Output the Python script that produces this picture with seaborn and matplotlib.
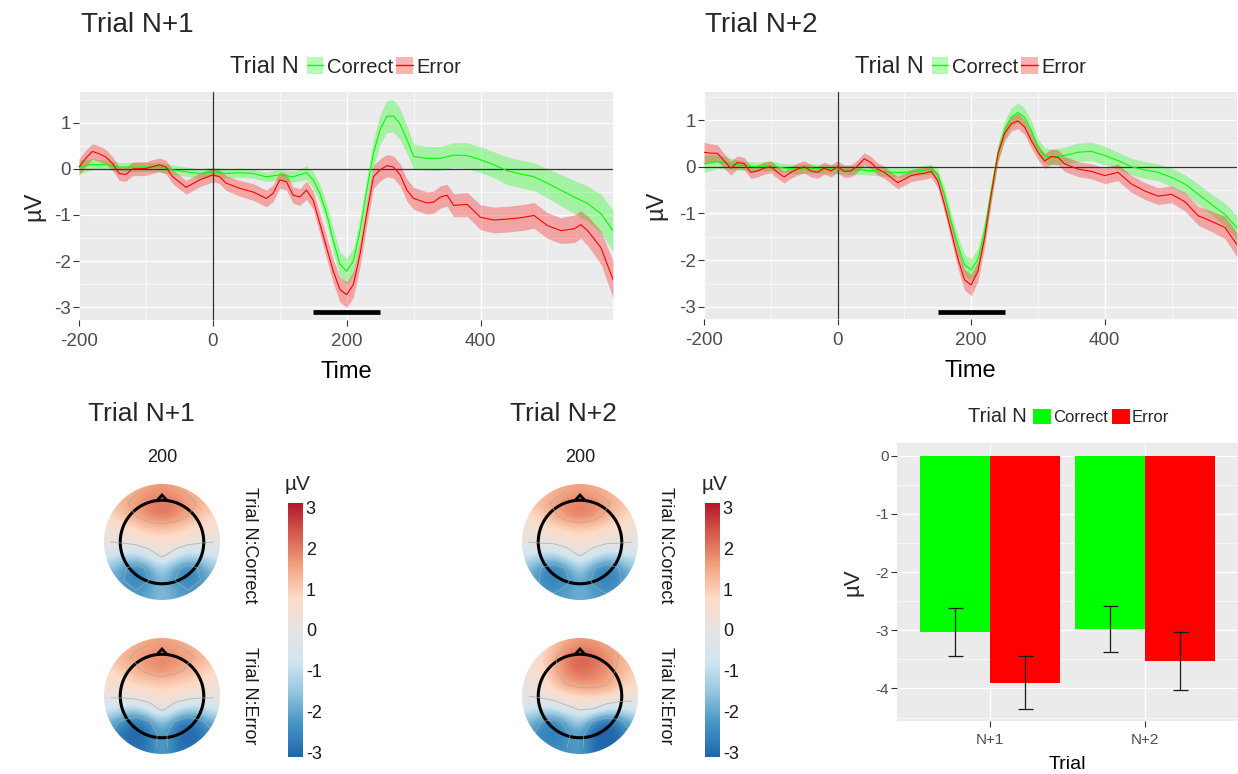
import numpy as np
import pandas as pd
import matplotlib
matplotlib.use("Agg")
import matplotlib.pyplot as plt
import seaborn as sns
from matplotlib.colors import LinearSegmentedColormap, Normalize
from matplotlib.patches import Circle, Patch, Polygon
from matplotlib.lines import Line2D
from matplotlib.cm import ScalarMappable
import matplotlib.ticker as mticker

# ---------------------------------------------------------------- data
# Trial N+1, Trial N = Correct
t1_correct = [-200,-180,-160,-140,-120,-100,-80,-60,-40,-20,0,20,40,60,80,100,120,140,150,160,170,180,190,200,210,220,230,240,250,260,270,280,290,300,320,340,360,380,400,420,440,460,480,500,520,540,560,580,598]
v1_correct = [0.04,0.10,0.09,0.04,0.04,0.04,0.04,-0.02,-0.06,-0.10,-0.06,-0.10,-0.08,-0.10,-0.17,-0.13,-0.17,-0.08,-0.24,-0.53,-0.97,-1.56,-2.07,-2.22,-2.00,-1.34,-0.46,0.34,0.86,1.14,1.15,0.97,0.64,0.27,0.23,0.23,0.30,0.29,0.20,0.09,-0.04,-0.11,-0.17,-0.31,-0.46,-0.61,-0.75,-0.97,-1.34]
c1_correct = [0.15,0.12,0.10,0.10,0.10,0.10,0.10,0.10,0.10,0.10,0.10,0.10,0.10,0.10,0.10,0.12,0.12,0.15,0.18,0.20,0.22,0.25,0.27,0.28,0.28,0.28,0.28,0.30,0.32,0.35,0.35,0.33,0.30,0.27,0.26,0.26,0.27,0.28,0.28,0.28,0.30,0.30,0.30,0.32,0.34,0.36,0.38,0.42,0.45]
# Trial N+1, Trial N = Error
t1_error = [-200,-190,-180,-170,-160,-150,-140,-130,-120,-100,-80,-70,-60,-40,-20,0,10,20,40,60,80,90,100,110,120,130,140,150,160,170,180,190,200,210,220,230,240,250,260,270,280,290,300,320,330,340,350,360,380,400,420,440,460,480,500,520,540,550,560,580,598]
v1_error = [0.04,0.23,0.38,0.33,0.26,0.12,-0.10,-0.12,0.00,0.01,0.09,0.04,-0.17,-0.40,-0.24,-0.13,-0.17,-0.31,-0.42,-0.50,-0.64,-0.53,-0.24,-0.28,-0.57,-0.61,-0.46,-0.68,-1.19,-1.71,-2.22,-2.62,-2.73,-2.51,-1.85,-0.97,-0.17,-0.02,0.07,0.04,-0.13,-0.46,-0.64,-0.74,-0.72,-0.61,-0.57,-0.79,-0.77,-1.05,-1.11,-1.09,-1.06,-1.01,-1.23,-1.34,-1.30,-1.21,-1.34,-1.71,-2.40]
c1_error = [0.18,0.18,0.17,0.17,0.16,0.15,0.15,0.15,0.15,0.15,0.15,0.15,0.15,0.15,0.15,0.15,0.15,0.16,0.17,0.18,0.18,0.18,0.18,0.18,0.18,0.18,0.20,0.20,0.22,0.24,0.26,0.27,0.28,0.28,0.27,0.26,0.25,0.24,0.24,0.24,0.24,0.24,0.24,0.24,0.24,0.24,0.24,0.25,0.26,0.27,0.28,0.28,0.28,0.28,0.28,0.28,0.30,0.30,0.32,0.36,0.40]
# Trial N+2, Trial N = Correct
t2_correct = [-200,-180,-160,-140,-120,-100,-80,-60,-40,-20,0,20,40,60,80,100,120,140,150,160,170,180,190,200,210,220,230,240,250,260,270,280,290,300,310,320,340,360,380,400,420,440,460,480,500,520,540,560,580,598]
v2_correct = [0.06,0.11,0.06,0.02,0.00,0.02,-0.03,-0.05,-0.03,-0.05,-0.05,-0.07,-0.07,-0.09,-0.12,-0.12,-0.09,-0.05,-0.16,-0.59,-1.17,-1.67,-2.10,-2.21,-1.99,-1.38,-0.52,0.27,0.78,1.06,1.16,1.06,0.78,0.42,0.24,0.20,0.24,0.31,0.33,0.24,0.13,0.00,-0.07,-0.12,-0.23,-0.37,-0.59,-0.81,-1.02,-1.31]
c2_correct = [0.18,0.15,0.12,0.10,0.10,0.10,0.10,0.10,0.10,0.10,0.10,0.10,0.10,0.10,0.10,0.10,0.10,0.10,0.12,0.15,0.18,0.20,0.22,0.24,0.24,0.22,0.20,0.20,0.20,0.20,0.20,0.20,0.20,0.18,0.17,0.17,0.18,0.20,0.20,0.20,0.18,0.18,0.18,0.18,0.20,0.20,0.22,0.22,0.24,0.26]
# Trial N+2, Trial N = Error
t2_error = [-200,-190,-180,-170,-160,-150,-140,-130,-120,-110,-100,-90,-80,-70,-60,-50,-40,-30,-20,-10,0,10,20,30,40,50,60,70,80,90,100,110,120,130,140,150,160,170,180,190,200,210,220,230,240,250,260,270,280,290,300,310,320,330,340,360,380,400,420,440,460,480,500,520,540,560,580,598]
v2_error = [0.31,0.29,0.29,0.13,-0.03,0.09,0.07,-0.12,-0.09,-0.03,0.00,-0.12,-0.22,-0.12,-0.05,0.00,-0.09,-0.12,-0.03,-0.09,0.00,-0.10,-0.09,0.02,0.17,0.09,-0.05,-0.12,-0.23,-0.34,-0.27,-0.19,-0.16,-0.14,-0.10,-0.30,-0.81,-1.38,-1.96,-2.42,-2.53,-2.24,-1.53,-0.59,0.27,0.71,0.92,0.98,0.85,0.56,0.31,0.12,0.22,0.20,0.06,-0.05,-0.10,-0.19,-0.12,-0.37,-0.52,-0.63,-0.59,-0.75,-1.05,-1.17,-1.30,-1.67]
c2_error = [0.22,0.20,0.18,0.16,0.15,0.14,0.13,0.13,0.13,0.13,0.13,0.13,0.13,0.13,0.13,0.13,0.13,0.13,0.13,0.13,0.13,0.13,0.13,0.13,0.13,0.13,0.13,0.13,0.13,0.13,0.13,0.13,0.13,0.13,0.13,0.15,0.17,0.19,0.21,0.22,0.23,0.22,0.20,0.18,0.16,0.16,0.16,0.16,0.16,0.16,0.16,0.16,0.16,0.16,0.16,0.16,0.16,0.17,0.18,0.18,0.18,0.18,0.18,0.20,0.20,0.22,0.24,0.26]

sig_window = [150, 250]      # significance bar (ms)
sig_level = [-3.1, -3.1]

# Bar chart (mean amplitude 150-250 ms)
bar_trials = ["N+1", "N+2"]
bar_correct = [-3.03, -2.98]
bar_error = [-3.90, -3.53]
se_correct = [0.41, 0.40]
se_error = [0.46, 0.50]

# Topographies at 200 ms (µV on a 9x9 grid, rows front->back, cols left->right)
topo_n1_correct = [
    [1.0, 1.2, 1.4, 1.6, 1.7, 1.6, 1.4, 1.2, 1.0],
    [1.1, 1.4, 1.7, 2.0, 2.1, 2.0, 1.7, 1.4, 1.1],
    [0.8, 1.1, 1.5, 1.9, 2.1, 1.9, 1.5, 1.1, 0.8],
    [0.4, 0.6, 0.8, 1.0, 1.1, 1.0, 0.8, 0.6, 0.4],
    [0.0, 0.1, 0.3, 0.5, 0.6, 0.5, 0.3, 0.1, 0.0],
    [-0.6, -1.0, -1.1, -0.4, 0.2, -0.4, -1.1, -1.0, -0.6],
    [-1.5, -2.2, -2.6, -2.1, -1.1, -2.1, -2.6, -2.2, -1.5],
    [-1.8, -2.3, -2.6, -2.3, -1.6, -2.3, -2.6, -2.3, -1.8],
    [-1.9, -2.1, -2.2, -2.0, -1.6, -2.0, -2.2, -2.1, -1.9]]
topo_n1_error = [
    [1.0, 1.2, 1.4, 1.5, 1.6, 1.5, 1.4, 1.2, 1.0],
    [1.1, 1.4, 1.6, 1.8, 1.9, 1.8, 1.6, 1.4, 1.1],
    [0.8, 1.1, 1.4, 1.7, 1.9, 1.7, 1.4, 1.1, 0.8],
    [0.5, 0.7, 0.9, 1.0, 1.1, 1.0, 0.9, 0.7, 0.5],
    [0.1, 0.2, 0.4, 0.5, 0.6, 0.5, 0.4, 0.2, 0.1],
    [-0.6, -1.1, -1.2, -0.5, 0.2, -0.5, -1.2, -1.1, -0.6],
    [-1.8, -2.5, -2.9, -2.4, -1.4, -2.4, -2.9, -2.5, -1.8],
    [-2.4, -2.9, -3.2, -2.8, -2.0, -2.8, -3.2, -2.9, -2.4],
    [-2.6, -2.8, -3.0, -2.7, -2.0, -2.7, -3.0, -2.8, -2.6]]
topo_n2_correct = [
    [0.9, 1.1, 1.3, 1.5, 1.6, 1.5, 1.3, 1.1, 0.9],
    [1.0, 1.3, 1.6, 1.9, 2.0, 1.9, 1.6, 1.3, 1.0],
    [0.7, 1.0, 1.4, 1.8, 2.0, 1.8, 1.4, 1.0, 0.7],
    [0.3, 0.5, 0.7, 0.9, 1.0, 0.9, 0.7, 0.5, 0.3],
    [0.0, 0.1, 0.2, 0.4, 0.5, 0.4, 0.2, 0.1, 0.0],
    [-0.7, -1.1, -1.2, -0.5, 0.1, -0.5, -1.2, -1.1, -0.7],
    [-1.6, -2.3, -2.7, -2.2, -1.2, -2.2, -2.7, -2.3, -1.6],
    [-1.9, -2.4, -2.7, -2.4, -1.8, -2.4, -2.7, -2.4, -1.9],
    [-2.0, -2.2, -2.3, -2.1, -1.8, -2.1, -2.3, -2.2, -2.0]]
topo_n2_error = [
    [0.4, 0.7, 1.1, 1.5, 1.7, 1.7, 1.5, 1.2, 0.9],
    [0.3, 0.8, 1.4, 2.0, 2.4, 2.2, 1.9, 1.5, 1.1],
    [0.2, 0.7, 1.4, 2.0, 2.2, 2.1, 1.8, 1.4, 1.0],
    [0.1, 0.5, 1.1, 1.6, 1.8, 1.8, 1.6, 1.2, 0.8],
    [0.0, 0.2, 0.5, 0.8, 0.9, 1.0, 1.0, 0.7, 0.4],
    [-0.6, -1.0, -0.9, -0.3, 0.1, 0.0, -0.6, -0.9, -0.6],
    [-1.7, -2.3, -2.6, -2.0, -1.2, -2.4, -3.0, -2.6, -1.8],
    [-2.1, -2.6, -2.8, -2.4, -2.0, -3.0, -3.4, -3.0, -2.3],
    [-2.2, -2.4, -2.5, -2.3, -2.1, -2.9, -3.2, -2.9, -2.3]]

# ---------------------------------------------------------------- style
sns.set_theme(style="darkgrid")
plt.rcParams['font.family'] = ['Liberation Sans', 'DejaVu Sans']
plt.rcParams['axes.unicode_minus'] = False
plt.rcParams['contour.negative_linestyle'] = 'solid'

BG = "#EBEBEB"
COLORS = {"Correct": "#00FF00", "Error": "#FF0000"}
TICKC = "#4D4D4D"
W, H = 1238, 774
fig = plt.figure(figsize=(W / 100, H / 100), dpi=100)
fig.patch.set_facecolor("white")


def add_ax(x0, y0, x1, y1):
    return fig.add_axes([x0 / W, 1 - y1 / H, (x1 - x0) / W, (y1 - y0) / H])


def ftext(x, y, s, **kw):
    return fig.text(x / W, 1 - y / H, s, **kw)


def gg_axes(ax, fs, pad):
    ax.set_facecolor(BG)
    for s in ax.spines.values():
        s.set_visible(False)
    ax.grid(True, which="major", color="white", lw=1.0)
    ax.grid(True, which="minor", color="white", lw=0.45)
    ax.set_axisbelow(True)
    ax.tick_params(which="major", length=4, width=0.8, color="#333333",
                   labelcolor=TICKC, labelsize=fs, pad=pad, bottom=True, left=True)
    ax.tick_params(which="minor", length=0)


def erp_panel(rect, series, ylim, title, title_x, legend_x, ylab_x):
    ax = add_ax(*rect)
    gg_axes(ax, 13.5, 2)
    ax.tick_params(axis="x", pad=5.5)
    frames = []
    for lab, (t, v, c) in series.items():
        frames.append(pd.DataFrame({"Time": t, "uV": v, "ci": c, "Trial N": lab}))
    df = pd.concat(frames, ignore_index=True)
    for lab, d in df.groupby("Trial N", sort=False):
        ax.fill_between(d["Time"], d["uV"] - d["ci"], d["uV"] + d["ci"],
                        color=COLORS[lab], alpha=0.3, lw=0, zorder=2)
    ax.axhline(0, color="#333333", lw=0.9, zorder=3)
    ax.axvline(0, color="#333333", lw=0.9, zorder=3)
    sns.lineplot(data=df, x="Time", y="uV", hue="Trial N", palette=COLORS,
                 estimator=None, errorbar=None, lw=0.8, legend=False, ax=ax,
                 zorder=4, sort=False)
    ax.plot(sig_window, sig_level, color="black", lw=3.4,
            solid_capstyle="butt", zorder=5)
    ax.set_xlim(-200, 598)
    ax.set_ylim(*ylim)
    ax.xaxis.set_major_locator(mticker.FixedLocator([-200, 0, 200, 400]))
    ax.xaxis.set_minor_locator(mticker.FixedLocator([-100, 100, 300, 500]))
    ax.yaxis.set_major_locator(mticker.FixedLocator([-3, -2, -1, 0, 1]))
    ax.yaxis.set_minor_locator(mticker.FixedLocator([-2.5, -1.5, -0.5, 0.5, 1.5]))
    ax.set_xlabel("Time", fontsize=17, color="black", labelpad=8)
    ax.set_ylabel("")
    ftext(ylab_x, (rect[1] + rect[3]) / 2, "µV", fontsize=17, rotation=90,
          ha="center", va="center")
    # titles & legend
    ftext(title_x, 25, title, fontsize=20, ha="left", va="center")
    ftext(legend_x, 67, "Trial N", fontsize=17, ha="left", va="center")
    handles = [(Patch(facecolor=COLORS[k], alpha=0.3, lw=0),
                Line2D([], [], color=COLORS[k], lw=1.0)) for k in COLORS]
    fig.legend(handles, list(COLORS), loc="center left",
               bbox_to_anchor=((legend_x + 77) / W, 1 - 67 / H), ncol=2,
               frameon=False, fontsize=14.5, handlelength=0.8, handleheight=0.85,
               handletextpad=0.2, columnspacing=0.15, borderpad=0,
               borderaxespad=0)
    return ax


erp_panel((79, 92, 613, 320),
          {"Correct": (t1_correct, v1_correct, c1_correct),
           "Error": (t1_error, v1_error, c1_error)},
          (-3.28, 1.67), "Trial N+1", 81, 230, 34)
erp_panel((704, 92, 1237, 319),
          {"Correct": (t2_correct, v2_correct, c2_correct),
           "Error": (t2_error, v2_error, c2_error)},
          (-3.26, 1.60), "Trial N+2", 705, 855, 656)

# ---------------------------------------------------------------- topographies
cmap = LinearSegmentedColormap.from_list(
    "rdbu9", ["#2166AC", "#4393C3", "#92C5DE", "#D1E5F0", "#E6E3E1",
              "#FDDBC7", "#F4A582", "#D6604D", "#B2182B"])
norm = Normalize(-3.1, 3.1)


def topo(cx, cy, grid, r=58):
    lim = 1.12
    ax = add_ax(cx - r * lim, cy - r * lim, cx + r * lim, cy + r * lim)
    ax.set_xlim(-lim, lim)
    ax.set_ylim(-lim, lim)
    ax.set_aspect("equal")
    ax.axis("off")
    g = np.array(grid)
    clip = Circle((0, 0), 1.0, transform=ax.transData)
    im = ax.imshow(g, extent=(-1, 1, -1, 1), cmap=cmap, norm=norm,
                   interpolation="bicubic", origin="upper")
    im.set_clip_path(clip)
    xs = np.linspace(-1 + 1 / 9, 1 - 1 / 9, g.shape[1])
    ys = np.linspace(1 - 1 / 9, -1 + 1 / 9, g.shape[0])
    cs = ax.contour(xs, ys, g, levels=[-2.3, 0, 1.5], colors="#A8A8A8",
                    linewidths=0.6, alpha=0.8)
    cs.set_clip_path(Circle((0, 0), 1.0, transform=ax.transData))
    hr = 0.72
    ax.add_patch(Circle((0, 0), hr, fill=False, ec="black", lw=2.2))
    ang = np.deg2rad([83, 97])
    ax.add_patch(Polygon([[hr * np.cos(ang[0]), hr * np.sin(ang[0])],
                          [0, 0.81],
                          [hr * np.cos(ang[1]), hr * np.sin(ang[1])]],
                         closed=False, fill=False, ec="black", lw=2.0))
    return ax


def topo_group(x_title, cx, strip_x, cbar_x, g_correct, g_error, title):
    ftext(x_title, 414, title, fontsize=19, ha="left", va="center")
    ftext(cx, 457, "200", fontsize=13, ha="center", va="center", color="#1A1A1A")
    topo(cx, 542, g_correct)
    topo(cx, 696, g_error)
    ftext(strip_x, 545, "Trial N:Correct", fontsize=13, rotation=270,
          ha="center", va="center", color="#1A1A1A")
    ftext(strip_x, 696, "Trial N:Error", fontsize=13, rotation=270,
          ha="center", va="center", color="#1A1A1A")
    cax = add_ax(cbar_x, 503, cbar_x + 15, 757)
    cb = fig.colorbar(ScalarMappable(norm=norm, cmap=cmap), cax=cax,
                      ticks=[-3, -2, -1, 0, 1, 2, 3])
    cb.outline.set_visible(False)
    cax.tick_params(length=3, width=0.8, color="white", direction="in",
                    labelsize=13, labelcolor="#1A1A1A", pad=2)
    ftext(cbar_x + 10, 485, "µV", fontsize=15, ha="center", va="center")


topo_group(88, 162, 250, 288, topo_n1_correct, topo_n1_error, "Trial N+1")
topo_group(510, 580, 666, 705, topo_n2_correct, topo_n2_error, "Trial N+2")

# ---------------------------------------------------------------- bar chart
axb = add_ax(897, 443, 1238, 721)
gg_axes(axb, 11, 2)
axb.tick_params(axis="x", pad=5)
bar_df = pd.DataFrame({
    "Trial": bar_trials * 2,
    "Trial N": ["Correct"] * len(bar_trials) + ["Error"] * len(bar_trials),
    "uV": bar_correct + bar_error,
    "se": se_correct + se_error,
})
sns.barplot(data=bar_df, x="Trial", y="uV", hue="Trial N", palette=COLORS,
            width=0.9, errorbar=None, legend=False, saturation=1, ax=axb,
            linewidth=0)
for p in axb.patches:
    h = p.get_height()
    row = bar_df.iloc[(bar_df["uV"] - h).abs().argmin()]
    axb.errorbar(p.get_x() + p.get_width() / 2, h, yerr=row["se"], fmt="none",
                 ecolor="#1A1A1A", elinewidth=0.9, capsize=5.4, capthick=0.9,
                 zorder=5)
axb.set_xlim(-0.6, 1.6)
axb.set_ylim(-4.56, 0.22)
axb.yaxis.set_major_locator(mticker.FixedLocator([-4, -3, -2, -1, 0]))
axb.yaxis.set_minor_locator(mticker.FixedLocator([-4.5, -3.5, -2.5, -1.5, -0.5]))
axb.grid(True, which="major", axis="x", color="white", lw=1.0)
axb.set_xlabel("Trial", fontsize=14, color="black", labelpad=6)
axb.set_ylabel("")
ftext(853, 582, "µV", fontsize=16, rotation=90, ha="center", va="center")
ftext(968, 417, "Trial N", fontsize=14.5, ha="left", va="center")
bhandles = [Patch(facecolor=COLORS[k], lw=0) for k in COLORS]
fig.legend(bhandles, list(COLORS), loc="center left",
           bbox_to_anchor=(1033 / W, 1 - 417 / H), ncol=2, frameon=False,
           fontsize=12, handlelength=1.05, handleheight=1.0, handletextpad=0.15,
           columnspacing=0.25, borderpad=0, borderaxespad=0)

fig.savefig("out.png", dpi=100, facecolor="white")
